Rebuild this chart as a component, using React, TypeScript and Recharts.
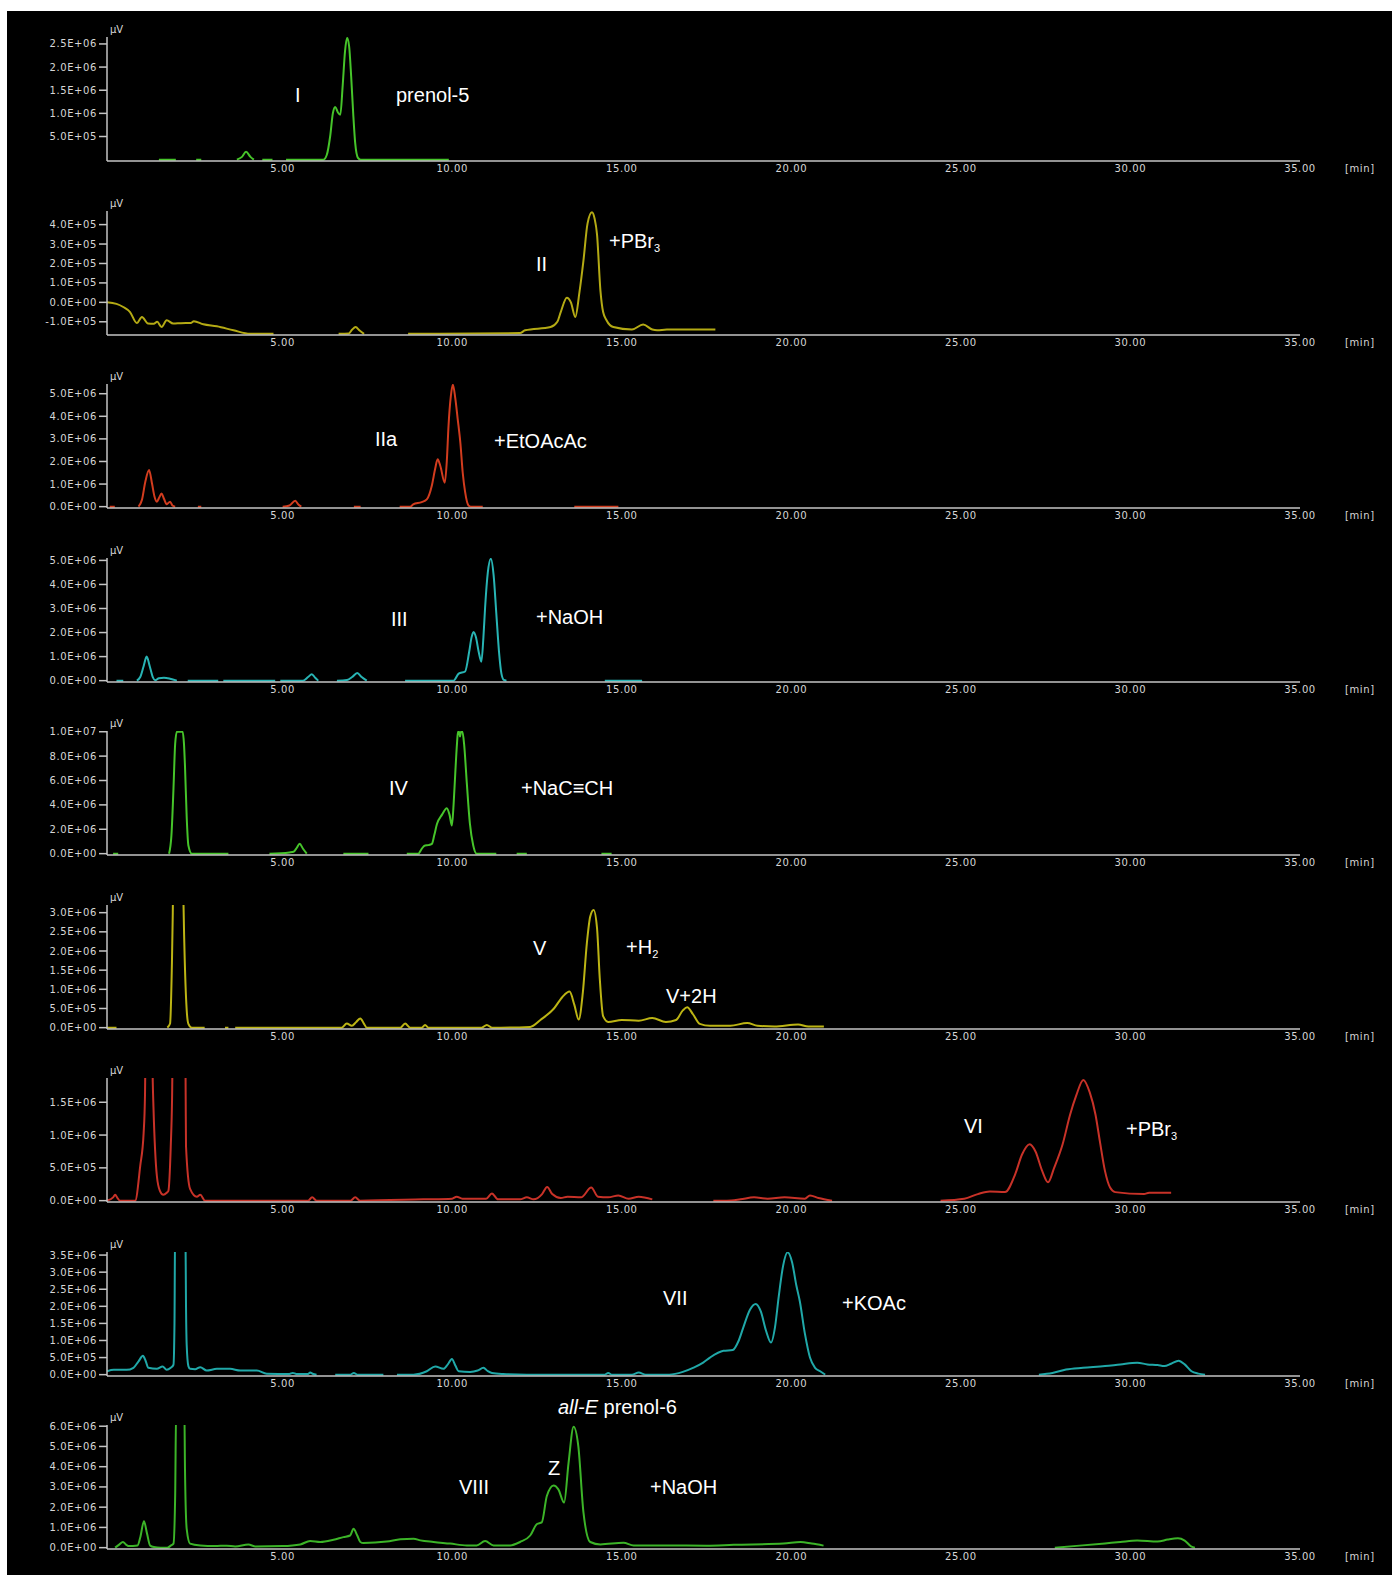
import { LineChart, Line, XAxis, YAxis } from "recharts";

type Pt = [number, number | null];
type Part = { t: string; italic?: boolean; sub?: boolean };
type Note = { x: number; y: number; parts: Part[] };

// retention time ticks [min]
const timeTicks = [5, 10, 15, 20, 25, 30, 35];

// traces: [time (min), signal (x1E+06 µV)], null = no trace drawn
const traceI: Pt[] = [
  [1.35, 0], [1.85, 0], [1.9, null],
  [2.45, 0], [2.6, 0], [2.65, null],
  [3.65, 0], [3.8, 0.06], [3.92, 0.17], [4.05, 0.06], [4.15, 0], [4.2, null],
  [4.4, 0], [4.7, 0], [4.75, null],
  [5.1, 0], [6.2, 0], [6.3, 0.1], [6.4, 0.5], [6.48, 1.0], [6.55, 1.14], [6.63, 1.02],
  [6.7, 0.97], [6.77, 1.6], [6.84, 2.35], [6.9, 2.63], [6.96, 2.45], [7.02, 1.8],
  [7.08, 1.0], [7.14, 0.35], [7.22, 0.04], [7.3, 0], [9.9, 0],
];

const traceII: Pt[] = [
  [-0.18, 0], [0.1, -0.008], [0.3, -0.024], [0.5, -0.05], [0.7, -0.106], [0.85, -0.075],
  [1.03, -0.109], [1.2, -0.11], [1.3, -0.1], [1.43, -0.127], [1.58, -0.092], [1.77, -0.109],
  [2.0, -0.107], [2.3, -0.106], [2.38, -0.097], [2.66, -0.113], [3.06, -0.123],
  [3.55, -0.144], [4.04, -0.162], [4.73, -0.162], [4.78, null],
  [6.65, -0.162], [6.95, -0.16], [7.05, -0.14], [7.15, -0.127], [7.27, -0.145],
  [7.4, -0.162], [7.45, null],
  [8.7, -0.162], [12.0, -0.158], [12.15, -0.144], [12.9, -0.127], [13.1, -0.1],
  [13.2, -0.05], [13.38, 0.024], [13.5, 0.0], [13.63, -0.075], [13.75, 0.05],
  [13.87, 0.215], [13.99, 0.405], [14.12, 0.463], [14.2, 0.43], [14.27, 0.35],
  [14.37, 0.062], [14.45, -0.05], [14.55, -0.092], [14.75, -0.127], [15.3, -0.14],
  [15.63, -0.114], [15.9, -0.14], [16.04, -0.144], [16.33, -0.14], [17.76, -0.14],
];

const traceIIa: Pt[] = [
  [-0.1, 0], [0.05, 0], [0.1, null],
  [0.75, 0], [0.85, 0.3], [0.95, 1.1], [1.06, 1.62], [1.15, 1.0], [1.22, 0.45],
  [1.29, 0.22], [1.36, 0.4], [1.43, 0.58], [1.5, 0.35], [1.58, 0.11], [1.68, 0.22],
  [1.75, 0.05], [1.83, 0], [1.88, null],
  [2.5, 0], [2.6, 0], [2.65, null],
  [5.0, 0], [5.2, 0.05], [5.37, 0.26], [5.47, 0.08], [5.55, 0], [5.6, null],
  [7.1, 0], [7.3, 0], [7.35, null],
  [8.45, 0], [8.76, 0], [8.85, 0.1], [9.1, 0.2], [9.25, 0.32], [9.4, 0.94], [9.5, 1.7],
  [9.57, 2.1], [9.65, 1.8], [9.78, 1.06], [9.84, 2.0], [9.89, 3.55], [9.96, 4.9],
  [10.02, 5.4], [10.09, 4.8], [10.16, 3.9], [10.24, 2.83], [10.31, 1.5], [10.38, 0.65],
  [10.48, 0.05], [10.55, 0], [10.9, 0], [10.95, null],
  [13.6, 0], [14.9, 0],
];

const traceIII: Pt[] = [
  [0.1, 0], [0.3, 0], [0.35, null],
  [0.7, 0], [0.8, 0.15], [0.9, 0.6], [0.99, 1.0], [1.08, 0.6], [1.17, 0.15], [1.24, 0.02],
  [1.35, 0.1], [1.5, 0.12], [1.68, 0.08], [1.88, 0], [1.93, null],
  [2.2, 0], [3.1, 0], [3.15, null], [3.25, 0], [4.78, 0], [4.83, null],
  [4.93, 0], [5.6, 0], [5.75, 0.15], [5.86, 0.27], [5.96, 0.12], [6.05, 0], [6.1, null],
  [6.6, 0], [6.9, 0.03], [7.05, 0.15], [7.2, 0.32], [7.33, 0.15], [7.48, 0], [7.53, null],
  [8.61, 0], [10.04, 0], [10.19, 0.29], [10.38, 0.38], [10.5, 1.2], [10.57, 1.8],
  [10.63, 2.02], [10.7, 1.8], [10.78, 1.2], [10.86, 0.79], [10.92, 1.8], [10.97, 3.05],
  [11.05, 4.5], [11.14, 5.07], [11.22, 4.4], [11.3, 2.8], [11.38, 1.2], [11.45, 0.3],
  [11.52, 0.03], [11.6, 0], [11.65, null],
  [14.5, 0], [15.6, 0],
];

const traceIV: Pt[] = [
  [0.0, 0], [0.15, 0], [0.2, null],
  [1.65, 0], [1.72, 1.5], [1.78, 5.3], [1.83, 9.0], [1.88, 10], [2.05, 10], [2.09, 9.0],
  [2.12, 7.16], [2.17, 3.0], [2.22, 0.67], [2.32, 0], [3.4, 0], [3.45, null],
  [4.61, 0], [5.2, 0.1], [5.32, 0.15], [5.42, 0.5], [5.5, 0.81], [5.6, 0.4], [5.71, 0],
  [5.76, null],
  [6.79, 0], [7.53, 0], [7.58, null],
  [8.66, 0], [9.0, 0], [9.1, 0.4], [9.2, 0.67], [9.3, 0.7], [9.4, 0.8], [9.47, 1.5],
  [9.55, 2.43], [9.7, 3.2], [9.84, 3.73], [9.92, 3.2], [9.99, 2.3], [10.04, 4.0],
  [10.09, 6.6], [10.14, 9.0], [10.17, 10], [10.2, 10], [10.23, 9.6], [10.26, 10],
  [10.3, 10], [10.35, 9.0], [10.43, 5.8], [10.52, 2.5], [10.62, 0.67], [10.72, 0],
  [11.3, 0], [11.35, null],
  [11.9, 0], [12.2, 0], [12.25, null],
  [14.4, 0], [14.7, 0],
];

const traceV: Pt[] = [
  [-0.18, 0], [0.1, 0], [0.15, null],
  [1.6, 0], [1.68, 0.11], [1.73, 1.49], [1.76, 3.0], [1.79, 6], [2.04, 6], [2.07, 3.5],
  [2.1, 2.2], [2.17, 0.46], [2.22, 0.1], [2.32, 0], [2.7, 0], [2.75, null],
  [3.3, 0], [3.4, 0], [3.45, null],
  [3.6, 0], [6.74, 0], [6.89, 0.11], [7.04, 0.05], [7.17, 0.15], [7.29, 0.24], [7.4, 0.1],
  [7.48, 0], [8.47, 0], [8.61, 0.11], [8.76, 0], [9.1, 0], [9.2, 0.07], [9.3, 0],
  [10.87, 0], [11.02, 0.07], [11.17, 0], [12.3, 0.02], [12.6, 0.2], [13.0, 0.5],
  [13.25, 0.8], [13.46, 0.94], [13.6, 0.6], [13.73, 0.21], [13.85, 0.9], [13.97, 2.2],
  [14.07, 2.9], [14.17, 3.07], [14.27, 2.6], [14.35, 1.3], [14.45, 0.3], [14.6, 0.15],
  [15.0, 0.2], [15.5, 0.18], [15.9, 0.25], [16.3, 0.15], [16.6, 0.2], [16.8, 0.45],
  [16.93, 0.53], [17.1, 0.35], [17.3, 0.1], [17.6, 0.05], [18.2, 0.05], [18.7, 0.12],
  [19.0, 0.05], [19.5, 0.03], [20.2, 0.08], [20.5, 0.03], [20.96, 0.03],
];

const traceVI: Pt[] = [
  [-0.18, 0], [0.0, 0.05], [0.06, 0.09], [0.13, 0.04], [0.2, 0], [0.65, 0], [0.8, 0.53],
  [0.9, 1.03], [0.94, 1.6], [0.97, 3], [1.14, 3], [1.17, 1.8], [1.19, 1.43], [1.29, 0.38],
  [1.38, 0.15], [1.48, 0.09], [1.58, 0.12], [1.63, 0.15], [1.7, 0.83], [1.74, 1.6],
  [1.77, 3], [2.12, 3], [2.14, 1.6], [2.15, 0.83], [2.27, 0.18], [2.47, 0.06],
  [2.57, 0.09], [2.71, 0], [5.75, 0], [5.87, 0.05], [6.0, 0], [7.0, 0], [7.14, 0.05],
  [7.28, 0], [9.15, 0.02], [10.0, 0.03], [10.13, 0.06], [10.3, 0.03], [11.0, 0.03],
  [11.17, 0.11], [11.35, 0.02], [12.0, 0.02], [12.2, 0.05], [12.4, 0.02], [12.65, 0.1],
  [12.8, 0.21], [12.95, 0.1], [13.2, 0.04], [13.4, 0.06], [13.8, 0.05], [14.1, 0.2],
  [14.3, 0.06], [14.6, 0.05], [14.9, 0.08], [15.2, 0.03], [15.5, 0.06], [15.9, 0.02],
  [15.95, null],
  [17.7, 0], [18.1, 0], [18.5, 0.02], [18.9, 0.05], [19.3, 0.03], [19.8, 0.05],
  [20.4, 0.03], [20.55, 0.08], [20.8, 0.04], [21.2, 0], [21.25, null],
  [24.4, 0], [25.1, 0.03], [25.5, 0.1], [25.85, 0.14], [26.3, 0.13], [26.6, 0.4],
  [26.8, 0.7], [27.03, 0.86], [27.2, 0.75], [27.4, 0.45], [27.57, 0.28], [27.75, 0.5],
  [28.0, 0.86], [28.22, 1.31], [28.4, 1.6], [28.61, 1.84], [28.8, 1.65], [28.97, 1.31],
  [29.1, 0.9], [29.25, 0.45], [29.4, 0.2], [29.55, 0.13], [30.4, 0.1], [30.55, 0.12],
  [31.2, 0.12],
];

const traceVII: Pt[] = [
  [-0.18, 0.1], [0.02, 0.14], [0.4, 0.14], [0.6, 0.2], [0.75, 0.39], [0.88, 0.55],
  [0.96, 0.4], [1.04, 0.2], [1.29, 0.17], [1.46, 0.24], [1.58, 0.14], [1.7, 0.2],
  [1.78, 0.29], [1.81, 1.5], [1.83, 4.5], [2.13, 4.5], [2.15, 2.0], [2.17, 0.87],
  [2.22, 0.25], [2.27, 0.17], [2.42, 0.16], [2.57, 0.22], [2.76, 0.12], [3.06, 0.17],
  [3.45, 0.17], [3.75, 0.12], [4.24, 0.12], [4.53, 0.03], [5.2, 0.02], [5.3, 0.05],
  [5.4, 0.02], [5.75, 0.02], [5.81, 0.06], [5.9, 0.02], [6.0, 0], [6.05, null],
  [6.55, 0], [7.0, 0], [7.1, 0.05], [7.2, 0], [7.97, 0], [8.02, null],
  [8.37, 0], [8.86, 0], [9.25, 0.1], [9.5, 0.24], [9.74, 0.17], [9.87, 0.3], [9.99, 0.46],
  [10.1, 0.25], [10.19, 0.1], [10.53, 0.08], [10.75, 0.12], [10.92, 0.2], [11.05, 0.1],
  [11.17, 0.05], [11.5, 0.02], [12.2, 0], [14.5, 0], [14.6, 0.05], [14.7, 0], [15.3, 0],
  [15.5, 0.06], [15.7, 0], [16.4, 0], [16.8, 0.08], [17.1, 0.2], [17.4, 0.35],
  [17.6, 0.5], [18.0, 0.7], [18.27, 0.72], [18.45, 1.0], [18.6, 1.43], [18.78, 1.9],
  [18.95, 2.07], [19.1, 1.85], [19.25, 1.3], [19.4, 0.94], [19.52, 1.4], [19.63, 2.3],
  [19.76, 3.2], [19.89, 3.58], [20.02, 3.3], [20.15, 2.6], [20.25, 2.15], [20.4, 1.2],
  [20.55, 0.5], [20.7, 0.2], [20.85, 0.1], [21.0, 0], [21.05, null],
  [27.3, 0], [27.7, 0.05], [28.1, 0.15], [28.6, 0.2], [29.25, 0.25], [29.7, 0.3],
  [30.2, 0.35], [30.5, 0.3], [30.8, 0.28], [31.0, 0.25], [31.2, 0.32], [31.42, 0.41],
  [31.6, 0.3], [31.8, 0.1], [32.0, 0.03], [32.2, 0],
];

const traceVIII: Pt[] = [
  [0.06, 0], [0.18, 0.15], [0.29, 0.28], [0.38, 0.15], [0.45, 0.08], [0.72, 0.11],
  [0.8, 0.5], [0.91, 1.3], [1.0, 0.7], [1.09, 0.11], [1.2, 0.03], [1.4, 0], [1.6, 0],
  [1.7, 0.1], [1.78, 0.2], [1.83, 2.55], [1.86, 7], [2.1, 7], [2.12, 3.85], [2.17, 0.93],
  [2.27, 0.2], [2.57, 0.11], [3.0, 0.08], [3.35, 0.1], [3.6, 0.06], [3.99, 0.15],
  [4.2, 0.06], [5.0, 0.08], [5.52, 0.16], [5.81, 0.33], [6.11, 0.28], [6.5, 0.39],
  [6.79, 0.52], [6.99, 0.6], [7.09, 0.93], [7.2, 0.6], [7.29, 0.28], [7.38, 0.23],
  [8.07, 0.3], [8.47, 0.41], [8.86, 0.44], [9.06, 0.36], [9.45, 0.28], [9.94, 0.2],
  [10.43, 0.11], [10.72, 0.11], [10.97, 0.33], [11.22, 0.11], [11.71, 0.11], [12.0, 0.28],
  [12.3, 0.6], [12.5, 1.17], [12.64, 1.25], [12.79, 2.55], [12.99, 3.07], [13.13, 2.88],
  [13.3, 2.23], [13.43, 4.18], [13.58, 5.97], [13.72, 4.99], [13.87, 1.74], [14.07, 0.28],
  [14.37, 0.16], [15.05, 0.24], [15.35, 0.11], [16.33, 0.11], [17.5, 0.1], [18.3, 0.14],
  [19.77, 0.2], [20.27, 0.28], [20.6, 0.2], [20.95, 0.1], [21.0, null],
  [27.77, 0], [28.5, 0.1], [29.25, 0.21], [29.7, 0.28], [30.2, 0.35], [30.8, 0.3],
  [31.1, 0.4], [31.4, 0.46], [31.6, 0.35], [31.8, 0.05], [31.9, 0],
];

// y ticks (x1E+06 µV)
const ticksI = [0.5, 1, 1.5, 2, 2.5];
const ticksII = [-0.1, 0, 0.1, 0.2, 0.3, 0.4];
const ticksIIa = [0, 1, 2, 3, 4, 5];
const ticksIII = [0, 1, 2, 3, 4, 5];
const ticksIV = [0, 2, 4, 6, 8, 10];
const ticksV = [0, 0.5, 1, 1.5, 2, 2.5, 3];
const ticksVI = [0, 0.5, 1, 1.5];
const ticksVII = [0, 0.5, 1, 1.5, 2, 2.5, 3, 3.5];
const ticksVIII = [0, 1, 2, 3, 4, 5, 6];

const AXIS = "#c4c4c4";
const TICK_TEXT = "#d6d6d6";
const TICK_FONT = "'DejaVu Sans', Verdana, sans-serif";
const LABEL_FONT = "'Liberation Sans', Arial, Helvetica, sans-serif";

const W = 1385;
const H = 174;
const STEP = 173.5;

// zero sits about a pixel above the axis line so baseline stretches stay visible
const lift = (max: number): [number, number] => [-max * 0.011, max];

const panels: {
  trace: Pt[];
  ticks: number[];
  domain: [number, number];
  color: string;
  notes: Note[];
}[] = [
  {
    trace: traceI, ticks: ticksI, domain: lift(2.65), color: "#46c42a",
    notes: [
      { x: 288, y: 85, parts: [{ t: "I" }] },
      { x: 389, y: 85, parts: [{ t: "prenol-5" }] },
    ],
  },
  {
    trace: traceII, ticks: ticksII, domain: [-0.168, 0.47], color: "#b4aa14",
    notes: [
      { x: 529, y: 80, parts: [{ t: "II" }] },
      { x: 602, y: 57, parts: [{ t: "+PBr" }, { t: "3", sub: true }] },
    ],
  },
  {
    trace: traceIIa, ticks: ticksIIa, domain: lift(5.43), color: "#d23c1e",
    notes: [
      { x: 368, y: 82, parts: [{ t: "IIa" }] },
      { x: 487, y: 84, parts: [{ t: "+EtOAcAc" }] },
    ],
  },
  {
    trace: traceIII, ticks: ticksIII, domain: lift(5.1), color: "#28b4b4",
    notes: [
      { x: 384, y: 88, parts: [{ t: "III" }] },
      { x: 529, y: 86, parts: [{ t: "+NaOH" }] },
    ],
  },
  {
    trace: traceIV, ticks: ticksIV, domain: lift(10.06), color: "#46c42a",
    notes: [
      { x: 382, y: 84, parts: [{ t: "IV" }] },
      { x: 514, y: 84, parts: [{ t: "+NaC≡CH" }] },
    ],
  },
  {
    trace: traceV, ticks: ticksV, domain: lift(3.2), color: "#bcb414",
    notes: [
      { x: 526, y: 70, parts: [{ t: "V" }] },
      { x: 619, y: 69, parts: [{ t: "+H" }, { t: "2", sub: true }] },
      { x: 659, y: 118, parts: [{ t: "V+2H" }] },
    ],
  },
  {
    trace: traceVI, ticks: ticksVI, domain: lift(1.87), color: "#c83228",
    notes: [
      { x: 957, y: 75, parts: [{ t: "VI" }] },
      { x: 1119, y: 78, parts: [{ t: "+PBr" }, { t: "3", sub: true }] },
    ],
  },
  {
    trace: traceVII, ticks: ticksVII, domain: lift(3.59), color: "#20a8a8",
    notes: [
      { x: 656, y: 73, parts: [{ t: "VII" }] },
      { x: 835, y: 78, parts: [{ t: "+KOAc" }] },
    ],
  },
  {
    trace: traceVIII, ticks: ticksVIII, domain: lift(6.06), color: "#3cb428",
    notes: [
      { x: 551, y: 9, parts: [{ t: "all-E", italic: true }, { t: " prenol-6" }] },
      { x: 541, y: 70, parts: [{ t: "Z" }] },
      { x: 452, y: 89, parts: [{ t: "VIII" }] },
      { x: 643, y: 89, parts: [{ t: "+NaOH" }] },
    ],
  },
];

function sci(v: number) {
  const [m, e] = (v * 1e6).toExponential(1).split("e");
  return `${m}E${e[0]}${e.slice(1).padStart(2, "0")}`;
}

function Panel({ p, top }: { p: (typeof panels)[number]; top: number }) {
  const data = p.trace.map(([t, v]) => ({ t, v }));
  return (
    <div style={{ position: "absolute", left: 0, top, width: W, height: H }}>
      <LineChart width={W} height={H} data={data} margin={{ top: 20, right: 92, bottom: 0, left: 0 }}>
        <XAxis
          dataKey="t"
          type="number"
          domain={[-0.18, 35]}
          ticks={timeTicks}
          interval={0}
          allowDataOverflow
          tickFormatter={(v) => Number(v).toFixed(2)}
          tickLine={false}
          tickSize={4}
          tickMargin={0}
          height={30}
          axisLine={{ stroke: AXIS, strokeWidth: 1.5 }}
          tick={{ fill: TICK_TEXT, fontSize: 10, fontFamily: TICK_FONT, letterSpacing: 0.6 }}
        />
        <YAxis
          type="number"
          domain={p.domain}
          ticks={p.ticks}
          interval={0}
          allowDataOverflow
          width={100}
          tickSize={8}
          tickMargin={2}
          tickFormatter={(v) => sci(Number(v))}
          axisLine={{ stroke: AXIS, strokeWidth: 1.5 }}
          tickLine={{ stroke: AXIS, strokeWidth: 1.5 }}
          tick={{ fill: TICK_TEXT, fontSize: 10, fontFamily: TICK_FONT, letterSpacing: 0.6 }}
        />
        <Line
          dataKey="v"
          type="monotone"
          stroke={p.color}
          strokeWidth={2}
          dot={false}
          activeDot={false}
          connectNulls={false}
          isAnimationActive={false}
        />
      </LineChart>
      <svg
        width={W}
        height={H}
        style={{ position: "absolute", left: 0, top: 0, overflow: "visible", pointerEvents: "none" }}
      >
        <text x={103} y={16} fill={TICK_TEXT} fontSize={10} fontFamily={TICK_FONT}>
          µV
        </text>
        <text x={1338} y={155} fill={TICK_TEXT} fontSize={10} fontFamily={TICK_FONT} letterSpacing={0.6}>
          [min]
        </text>
        {p.notes.map((n, i) => (
          <text
            key={i}
            x={n.x}
            y={n.y}
            fill="#ffffff"
            fontSize={20}
            fontFamily={LABEL_FONT}
            style={{ whiteSpace: "pre" }}
          >
            {n.parts.map((part, j) => (
              <tspan
                key={j}
                fontStyle={part.italic ? "italic" : undefined}
                fontSize={part.sub ? 11 : undefined}
                dy={part.sub ? 4 : undefined}
              >
                {part.t}
              </tspan>
            ))}
          </text>
        ))}
      </svg>
    </div>
  );
}

export default function App() {
  return (
    <div
      style={{
        position: "absolute",
        left: 7,
        top: 11,
        width: W,
        height: 1564,
        background: "#000",
        overflow: "hidden",
      }}
    >
      {panels.map((p, i) => (
        <Panel key={i} p={p} top={6 + STEP * i} />
      ))}
    </div>
  );
}
